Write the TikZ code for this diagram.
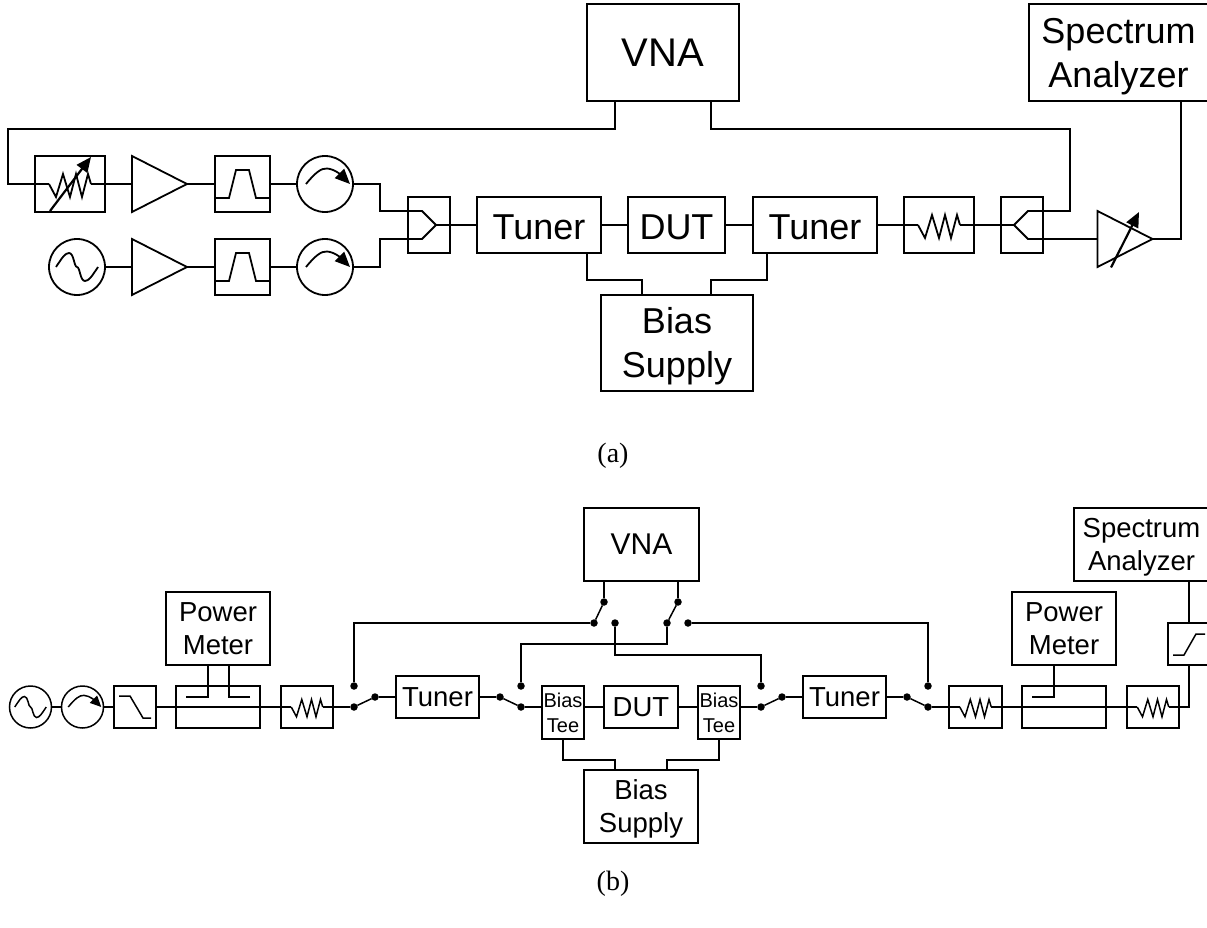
\documentclass[tikz,border=0pt]{standalone}
\usepackage{fontspec}
\setmainfont{Liberation Sans}
\newfontfamily\capfont{Liberation Serif}
\usetikzlibrary{arrows.meta}
\newcommand{\fsz}[2]{\fontsize{#1}{#2}\selectfont}
\newcommand{\lowA}{\rule{0pt}{33pt}}
\newcommand{\lowB}{\rule{0pt}{25pt}}
\tikzset{
  x=1pt,y=-1pt,
  lw/.style={line width=1.8pt,line join=miter},
  lwb/.style={line width=1.5pt,line join=miter},
  box/.style={draw,lw,inner sep=0pt,outer sep=0pt,align=center,font=\fsz{36}{44}},
  boxb/.style={draw,lwb,inner sep=0pt,outer sep=0pt,align=center,font=\fsz{27.5}{33}},
  tee/.style={boxb,font=\fsz{20}{25}},
  lowone/.style={execute at begin node={\rule{0pt}{29pt}}},
  ring/.style={draw,circle,inner sep=0pt,outer sep=0pt},
  dot/.style={circle,fill=black,inner sep=0pt,outer sep=0pt,minimum size=7.5pt},
  wire/.style={lw},
  wireb/.style={lwb},
  bigtip/.style={-{Triangle[length=15pt,width=13pt]}},
  smalltip/.style={-{Triangle[length=11pt,width=10pt]}},
  resistor/.pic={
    \coordinate (-in) at (-21,0);
    \coordinate (-out) at (21,0);
    \draw[pic actions,line join=miter] (-21,0)--(-14,13)--(-7,-10)--(0,13)--(6,-10)--(12,13)--(18,-10)--(21,0);
  },
  bandpass/.pic={
    \draw[pic actions] (-27.5,14)--(-13.5,14)--(-6.5,-14)--(6.5,-14)--(13.5,14)--(27.5,14);
  },
  sinewave/.pic={
    \draw[pic actions] (-21,0) .. controls (-15,-9) and (-12,-14) .. (-8,-14) .. controls (-3,-14) and (-3,0) .. (0,0) .. controls (3,0) and (3,14) .. (8,14) .. controls (12,14) and (15,9) .. (21,0);
  },
  circarrow/.pic={
    \draw[pic actions] (-19,0) .. controls (-10,-11) and (-4,-16) .. (2,-15.5) .. controls (10,-15) and (17,-8) .. (25,0);
  },
  ampl/.pic={
    \coordinate (-in) at (-27.5,0);
    \coordinate (-out) at (27.5,0);
    \draw[pic actions] (-27.5,-28)--(27.5,0)--(-27.5,28)--cycle;
  }
}
\begin{document}
\begin{tikzpicture}
\useasboundingbox (0,0) rectangle (1207,928);
% ---------- (a) ----------
\node[box,minimum width=152pt,minimum height=97pt,font=\fsz{40}{44}] (vnaA) at (663,52.5) {VNA};
\node[box,minimum width=182pt,minimum height=97pt] (specA) at (1120,52.5) {\lowA\hspace*{-3pt}Spectrum\\\hspace*{-3pt}Analyzer};
\node[box,line width=2.4pt,minimum width=70pt,minimum height=56pt] (attA) at (70,184) {};
\pic[lw] (rA0) at (70,184) {resistor};
\pic[lw] (ampA1) at (159.5,184) {ampl};
\node[box,minimum width=55pt,minimum height=56pt] (bpA1) at (242.5,184) {};
\pic[lw] at (242.5,184) {bandpass};
\node[ring,lw,minimum size=56pt] (circA1) at (325,184) {};
\pic[lw,bigtip] at (325,184) {circarrow};
\node[ring,lw,minimum size=56pt] (srcA) at (77,267) {};
\pic[lw] at (77,267) {sinewave};
\pic[lw] (ampA2) at (159.5,267) {ampl};
\node[box,minimum width=55pt,minimum height=56pt] (bpA2) at (242.5,267) {};
\pic[lw] at (242.5,267) {bandpass};
\node[ring,lw,minimum size=56pt] (circA2) at (325,267) {};
\pic[lw,bigtip] at (325,267) {circarrow};
\node[box,minimum width=42pt,minimum height=56pt] (combA) at (429,225) {};
\node[box,lowone,minimum width=124pt,minimum height=56pt] (tunA1) at (539,225) {Tuner};
\node[box,lowone,minimum width=97pt,minimum height=56pt] (dutA) at (676.5,225) {DUT};
\node[box,lowone,minimum width=124pt,minimum height=56pt] (tunA2) at (815,225) {Tuner};
\node[box,minimum width=70pt,minimum height=56pt] (attA2) at (939,225) {};
\pic[lw] (rA) at (939,225) {resistor};
\node[box,minimum width=42pt,minimum height=56pt] (coupA) at (1022,225) {};
\pic[lw] (ampA3) at (1125,239) {ampl};
\node[box,minimum width=152pt,minimum height=96pt] (biasA) at (677,343) {\lowA Bias\\Supply};
\coordinate (combTip) at (436,225);
\coordinate (coupTip) at (1014,225);
\draw[wire] (vnaA.south -| 615,0) |- (8,129) |- (rA0-in);
\draw[wire] (rA0-out) -- (ampA1-in);
\draw[wire] (ampA1-out) -- (bpA1.west);
\draw[wire] (bpA1.east) -- (circA1.west);
\draw[wire] (srcA.east) -- (ampA2-in);
\draw[wire] (ampA2-out) -- (bpA2.west);
\draw[wire] (bpA2.east) -- (circA2.west);
\draw[wire] (circA1.east) -- (380,184) -- (380,211) -- (422,211) -- (combTip) -- (422,239) -- (380,239) -- (380,267) -- (circA2.east);
\draw[wire] (combTip) -- (tunA1.west);
\draw[wire] (tunA1.east) -- (dutA.west);
\draw[wire] (dutA.east) -- (tunA2.west);
\draw[wire] (tunA2.east) -- (rA-in);
\draw[wire] (rA-out) -- (coupTip);
\draw[wire] (vnaA.south -| 711,0) -- (711,129) -- (1070,129) -- (1070,211) -- (1028,211) -- (coupTip) -- (1028,239) -- (ampA3-in);
\draw[wire] (ampA3-out) -- (1181,239) -- (specA.south -| 1181,0);
\draw[wire] (tunA1.south -| 587,0) |- (642,280) -- (biasA.north -| 642,0);
\draw[wire] (tunA2.south -| 767,0) |- (711,280) -- (biasA.north -| 711,0);
\draw[lw,line width=2.2pt,bigtip] (50,211) -- (91,157);
\draw[lw,line width=2.2pt,bigtip] (1111,267.5) -- (1139,212);
\node[font=\capfont\fsz{28}{30}] (capA) at (613,456) {(a)};
% ---------- (b) ----------
\node[boxb,minimum width=115pt,minimum height=73pt,font=\fsz{30}{33}] (vnaB) at (641.5,544.5) {VNA};
\node[boxb,minimum width=137pt,minimum height=73pt] (specB) at (1142.5,544.5) {\lowB\hspace*{-2pt}Spectrum\\\hspace*{-2pt}Analyzer};
\node[ring,lwb,minimum size=42pt] (srcB) at (30.5,707) {};
\pic[lwb,scale=.75] at (30.5,707) {sinewave};
\node[ring,lwb,minimum size=42pt] (circB) at (82.5,707) {};
\pic[lwb,scale=.75,smalltip] at (82.5,707) {circarrow};
\node[boxb,minimum width=42pt,minimum height=42pt] (lpB) at (135,707) {};
\node[boxb,minimum width=84pt,minimum height=42pt] (coupB1) at (218,707) {};
\node[boxb,minimum width=104pt,minimum height=73pt] (pmB1) at (218,628.5) {Power\\Meter};
\node[boxb,minimum width=52pt,minimum height=42pt] (attB1) at (307,707) {};
\pic[lwb,scale=.75] (rB1) at (307,707) {resistor};
\node[dot] (s1c) at (354,707) {};
\node[dot] (s1u) at (354,686) {};
\node[dot] (s1r) at (375,697) {};
\node[boxb,minimum width=83pt,minimum height=42pt] (tunB1) at (437.5,697) {Tuner};
\node[dot] (s2l) at (500,697) {};
\node[dot] (s2c) at (521,707) {};
\node[dot] (s2u) at (521,686) {};
\node[tee,minimum width=42pt,minimum height=53pt] (teeB1) at (563,712.5) {Bias\\Tee};
\node[boxb,minimum width=74pt,minimum height=42pt] (dutB) at (641,707) {DUT};
\node[tee,minimum width=42pt,minimum height=53pt] (teeB2) at (719,712.5) {Bias\\Tee};
\node[dot] (s3c) at (761,707) {};
\node[dot] (s3u) at (761,686) {};
\node[dot] (s3r) at (782,697) {};
\node[boxb,minimum width=83pt,minimum height=42pt] (tunB2) at (844.5,697) {Tuner};
\node[dot] (s4l) at (907,697) {};
\node[dot] (s4c) at (928,707) {};
\node[dot] (s4u) at (928,686) {};
\node[boxb,minimum width=53pt,minimum height=42pt] (attB2) at (975.5,707) {};
\pic[lwb,scale=.75] (rB2) at (975.5,707) {resistor};
\node[boxb,minimum width=84pt,minimum height=42pt] (coupB2) at (1064,707) {};
\node[boxb,minimum width=104pt,minimum height=73pt] (pmB2) at (1064,628.5) {Power\\Meter};
\node[boxb,minimum width=52pt,minimum height=42pt] (attB3) at (1153,707) {};
\pic[lwb,scale=.75] (rB3) at (1153,707) {resistor};
\node[boxb,minimum width=42pt,minimum height=42pt] (limB) at (1189,644) {};
\node[boxb,minimum width=114pt,minimum height=73pt] (biasB) at (641,806.5) {\lowB Bias\\Supply};
\node[dot] (v1t) at (604,602) {};
\node[dot] (v1l) at (594,623) {};
\node[dot] (v1r) at (615,623) {};
\node[dot] (v2t) at (678,602) {};
\node[dot] (v2l) at (667,623) {};
\node[dot] (v2r) at (688,623) {};
% glyphs
\draw[lwb] (119,696)--(130,696)--(143,718)--(151,718);
\draw[lwb] (1173,655)--(1184,655)--(1196,634)--(1205,634);
% wires
\draw[wireb] (srcB) -- (circB);
\draw[wireb] (circB) -- (lpB);
\draw[wireb] (lpB.east) -- (rB1-in);
\draw[wireb] (186,697) -- (208,697) -- (pmB1.south -| 208,0);
\draw[wireb] (250,697) -- (229,697) -- (pmB1.south -| 229,0);
\draw[wireb] (rB1-out) -- (s1c);
\draw[wireb] (s1c) -- (s1r);
\draw[wireb] (s1r) -- (tunB1.west);
\draw[wireb] (tunB1.east) -- (s2l);
\draw[wireb] (s2l) -- (s2c);
\draw[wireb] (s2c) -- (teeB1.west |- s2c);
\draw[wireb] (teeB1.east |- dutB) -- (dutB.west);
\draw[wireb] (dutB.east) -- (teeB2.west |- dutB);
\draw[wireb] (teeB2.east |- s3c) -- (s3c);
\draw[wireb] (s3c) -- (s3r);
\draw[wireb] (s3r) -- (tunB2.west);
\draw[wireb] (tunB2.east) -- (s4l);
\draw[wireb] (s4l) -- (s4c);
\draw[wireb] (s4c) -- (rB2-in);
\draw[wireb] (rB2-out) -- (rB3-in);
\draw[wireb] (1032,697) -- (1054,697) -- (pmB2.south -| 1054,0);
\draw[wireb] (rB3-out) -- (limB.south |- rB3-out) -- (limB.south);
\draw[wireb] (limB.north) -- (specB.south -| limB.north);
\draw[wireb] (vnaB.south -| v1t) -- (v1t);
\draw[wireb] (v1t) -- (v1l);
\draw[wireb] (vnaB.south -| v2t) -- (v2t);
\draw[wireb] (v2t) -- (v2l);
\draw[wireb] (v1l) -| (s1u);
\draw[wireb] (v2l) -- (v2l |- 0,644) -| (s2u);
\draw[wireb] (v1r) -- (v1r |- 0,655) -| (s3u);
\draw[wireb] (v2r) -| (s4u);
\draw[wireb] (teeB1.south) -- (563,760) -- (615,760) -- (biasB.north -| 615,0);
\draw[wireb] (teeB2.south) -- (719,760) -- (667,760) -- (biasB.north -| 667,0);
\node[font=\capfont\fsz{28}{30}] (capB) at (613,884) {(b)};
\end{tikzpicture}
\end{document}
